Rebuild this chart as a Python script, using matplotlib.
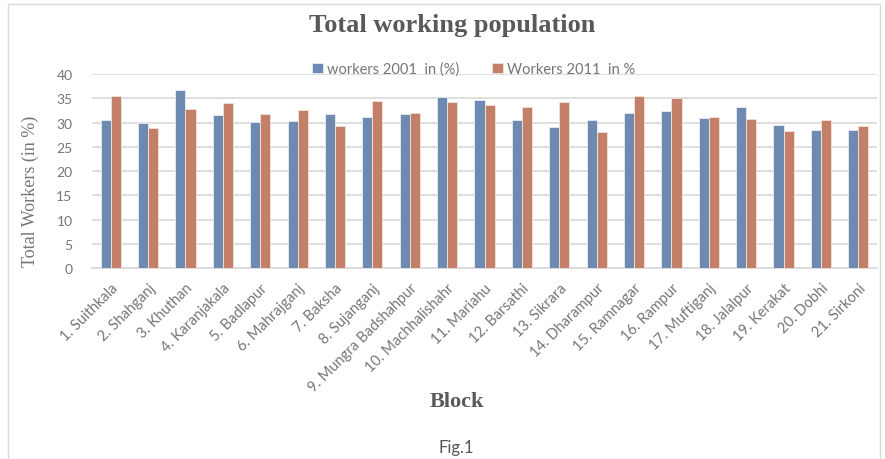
import matplotlib.pyplot as plt
import numpy as np
from matplotlib.patches import Rectangle

blocks = ['1. Suithkala', '2. Shahganj', '3. Khuthan', '4. Karanjakala', '5. Badlapur',
          '6. Mahrajganj', '7. Baksha', '8. Sujanganj', '9. Mungra Badshahpur',
          '10. Machhalishahr', '11. Mariahu', '12. Barsathi', '13. Sikrara',
          '14. Dharampur', '15. Ramnagar', '16. Rampur', '17. Muftiganj',
          '18. Jalalpur', '19. Kerakat', '20. Dobhi', '21. Sirkoni']
workers_2001 = [30.5, 29.9, 36.7, 31.5, 30.1, 30.3, 31.7, 31.2, 31.7, 35.3, 34.6,
                30.5, 29.1, 30.5, 31.9, 32.3, 31.0, 33.2, 29.4, 28.5, 28.5]
workers_2011 = [35.5, 28.9, 32.8, 34.1, 31.7, 32.6, 29.2, 34.4, 31.9, 34.2, 33.7,
                33.2, 34.3, 28.0, 35.5, 35.1, 31.2, 30.7, 28.3, 30.5, 29.2]

blue = '#6f8ab1'
orange = '#c47f68'
grid_c = '#d9d9d9'
text_c = '#767676'

fig = plt.figure(figsize=(8.85, 4.6), dpi=100)
ax = fig.add_axes([0.104, 0.415, 0.887, 0.422])

x = np.arange(len(blocks))
w = 0.27
ax.bar(x - w / 2, workers_2001, w, color=blue, edgecolor='#e8edf4', linewidth=0.6,
       label='workers 2001  in (%)', zorder=3)
ax.bar(x + w / 2, workers_2011, w, color=orange, edgecolor='#f3e3dc', linewidth=0.6,
       label='Workers 2011  in %', zorder=3)

ax.set_xlim(-0.5, len(blocks) - 0.5)
ax.set_ylim(0, 40)
ax.set_yticks(range(0, 41, 5))
ax.yaxis.grid(True, color=grid_c, linewidth=1.2, zorder=0)
for s in ['top', 'right', 'left']:
    ax.spines[s].set_visible(False)
ax.spines['bottom'].set_color(grid_c)
ax.spines['bottom'].set_linewidth(1.2)
ax.tick_params(axis='both', length=0, colors=text_c, labelsize=10)
ax.tick_params(axis='y', pad=14)
ax.tick_params(axis='x', pad=9)
ax.set_xticks(x)
ax.set_xticklabels(blocks, rotation=45, ha='right', rotation_mode='anchor',
                   family='Lato', fontsize=10.5)
for lab in ax.get_yticklabels():
    lab.set_family('Lato')

fig.text(0.511, 0.945, 'Total working population', ha='center', va='center',
         family='Liberation Serif', weight='bold', fontsize=19, color='#595959')
fig.text(0.034, 0.585, 'Total Workers (in %)', rotation=90, ha='center', va='center',
         family='Liberation Serif', fontsize=13, color=text_c)
fig.text(0.516, 0.125, 'Block', ha='center', va='center',
         family='Liberation Serif', weight='bold', fontsize=16, color='#595959')
fig.text(0.516, 0.025, 'Fig.1', ha='center', va='center',
         family='Lato', fontsize=12, color='#555555')

leg = fig.legend(loc='center', bbox_to_anchor=(0.535, 0.848), ncol=2, frameon=False,
                 handlelength=0.75, handleheight=0.75, handletextpad=0.3,
                 columnspacing=2.2, prop={'family': 'Lato', 'size': 10.5})
for t in leg.get_texts():
    t.set_color(text_c)

# light frame around the chart area
fig.patches.append(Rectangle((0.009, -0.05), 0.985, 1.04, transform=fig.transFigure,
                             fill=False, edgecolor='#d9d9d9', linewidth=1))

plt.savefig('out.png', dpi=100)
